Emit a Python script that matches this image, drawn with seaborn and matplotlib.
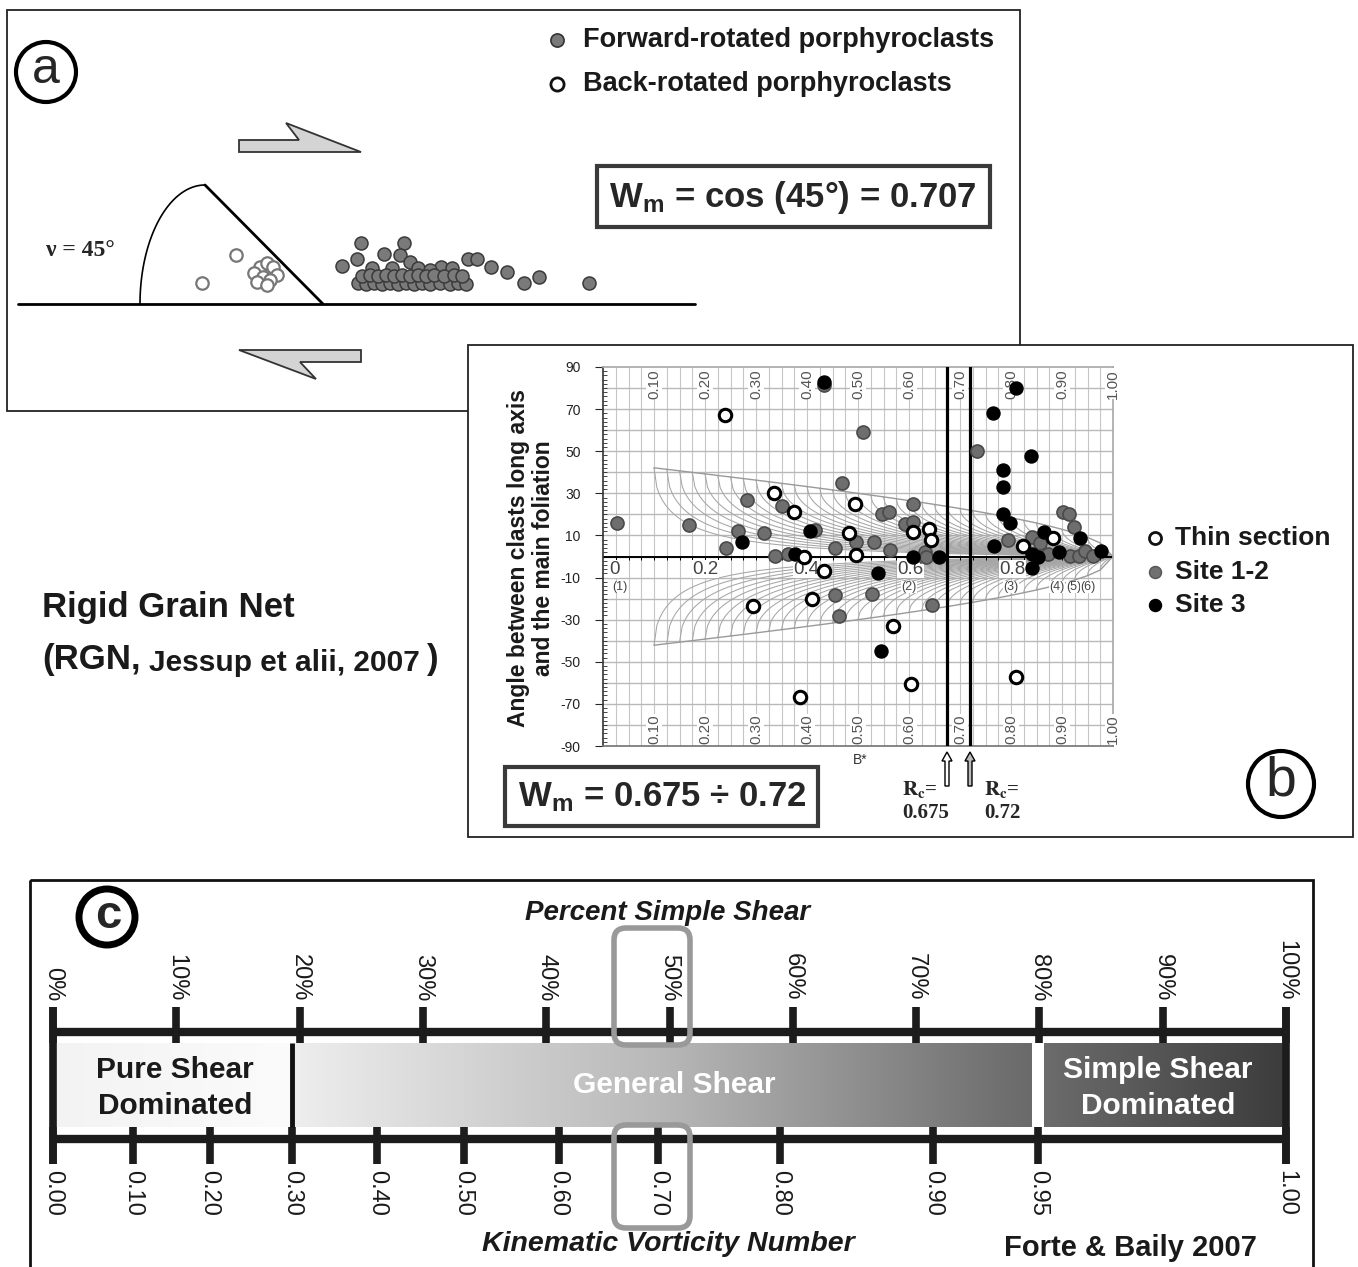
import numpy as np
import matplotlib
matplotlib.use("Agg")
import matplotlib.pyplot as plt
import matplotlib.patches as mpatches
from matplotlib.ticker import MultipleLocator
from matplotlib.colors import LinearSegmentedColormap
import seaborn as sns

sns.set_theme(style="white")
plt.rcParams["font.family"] = ["Liberation Sans", "DejaVu Sans"]
plt.rcParams["mathtext.fontset"] = "custom"
plt.rcParams["mathtext.rm"] = "Liberation Sans"
plt.rcParams["mathtext.bf"] = "Liberation Sans:bold"
plt.rcParams["mathtext.it"] = "Liberation Sans:italic"

W, H = 1358, 1267

# -- Panel (a): porphyroclasts along the shear plane (figure pixels) -------
fwd_x = [361, 404, 384, 400, 410, 357, 342, 468, 477, 441, 491, 507, 524, 539, 589,
         372, 392, 418, 430, 452,
         358, 366, 374, 382, 390, 398, 406, 414, 422, 430, 440, 450, 458, 466,
         362, 370, 378, 386, 394, 402, 410, 418, 426, 434, 444, 454, 462]
fwd_y = [243, 243, 254, 255, 262, 259, 266, 259, 259, 267, 267, 272, 283, 277, 283,
         268, 268, 268, 270, 268,
         283, 284, 283, 284, 283, 284, 283, 284, 283, 284, 283, 284, 283, 284,
         276, 275, 276, 275, 276, 275, 276, 275, 276, 275, 276, 275, 276]
back_x = [202, 236, 260, 267, 273, 277, 254, 263, 270, 257, 267]
back_y = [283, 255, 267, 263, 267, 275, 273, 277, 280, 282, 285]

# -- Panel (b): Rigid Grain Net data ---------------------------------------
thin_bstar = [0.240, 0.336, 0.375, 0.494, 0.483, 0.394, 0.496, 0.434, 0.410, 0.294,
              0.387, 0.569, 0.604, 0.810, 0.607, 0.639, 0.643, 0.883, 0.824]
thin_angle = [67.0, 30.3, 21.0, 24.8, 11.2, -0.4, 0.7, -6.8, -20.0, -23.4,
              -66.6, -33.0, -60.5, -57.1, 11.6, 12.9, 7.8, 8.9, 5.0]
site12_bstar = [0.027, 0.169, 0.241, 0.264, 0.282, 0.316, 0.337, 0.350, 0.363, 0.415,
                0.434, 0.454, 0.454, 0.463, 0.468, 0.497, 0.509, 0.527, 0.531, 0.547,
                0.560, 0.563, 0.592, 0.607, 0.607, 0.632, 0.633, 0.645, 0.734, 0.795,
                0.842, 0.857, 0.872, 0.901, 0.914, 0.916, 0.924, 0.933, 0.946, 0.960]
site12_angle = [16.1, 15.0, 4.2, 12.3, 26.8, 11.0, 0.2, 24.0, 1.2, 12.6,
                81.4, 4.2, -18.2, -28.3, 35.0, 7.0, 59.3, -17.9, 6.8, 20.2,
                20.9, 3.0, 15.5, 16.2, 25.0, 2.3, -0.1, -23.0, 50.1, 8.0,
                9.1, 6.3, 1.2, 21.0, 20.2, 0.2, 14.2, 0.2, 2.8, 0.2]
site3_bstar = [0.273, 0.376, 0.406, 0.434, 0.539, 0.546, 0.607, 0.658, 0.765, 0.767,
               0.784, 0.784, 0.784, 0.799, 0.810, 0.839, 0.841, 0.852, 0.841, 0.865,
               0.894, 0.936, 0.976]
site3_angle = [6.9, 1.2, 12.3, 83.0, -8.0, -44.9, -0.1, -0.4, 68.0, 5.0,
               41.1, 33.1, 20.2, 16.1, 80.2, 47.9, 1.2, -0.4, -5.6, 11.5,
               2.3, 8.9, 2.7]
rc_limits = [0.675, 0.72]
rgn_rc = [0.100, 0.125, 0.150, 0.175, 0.200, 0.225, 0.250, 0.275, 0.300, 0.325,
          0.350, 0.375, 0.400, 0.425, 0.450, 0.475, 0.500, 0.525, 0.550, 0.575,
          0.600, 0.625, 0.650, 0.675, 0.700, 0.725, 0.750, 0.775, 0.800, 0.825,
          0.850, 0.875, 0.900, 0.925, 0.950, 0.975]
bstar_ticks = [0.10, 0.20, 0.30, 0.40, 0.50, 0.60, 0.70, 0.80, 0.90, 1.00]
axis_labels = ["0", "0.2", "0.4", "0.6", "0.8"]
axis_pos = [0.012, 0.2, 0.398, 0.602, 0.802]
curve_ids = ["(1)", "(2)", "(3)", "(4)", "(5)", "(6)"]
curve_id_pos = [0.018, 0.600, 0.800, 0.890, 0.923, 0.951]
angle_ticks = [90, 70, 50, 30, 10, -10, -30, -50, -70, -90]

# -- Panel (c): vorticity scale --------------------------------------------
pct_ticks = [0, 10, 20, 30, 40, 50, 60, 70, 80, 90, 100]
pct_labels = ["0%", "10%", "20%", "30%", "40%", "50%", "60%", "70%", "80%", "90%", "100%"]
wk_labels = ["0.00", "0.10", "0.20", "0.30", "0.40", "0.50", "0.60", "0.70",
             "0.80", "0.90", "0.95", "1.00"]
wk_pct = [0, 6.5, 12.7, 19.4, 26.3, 33.3, 41.0, 49.1, 59.0, 71.4, 79.9, 100]


def frac(x0, y0, x1, y1):
    return [x0 / W, 1 - y1 / H, (x1 - x0) / W, (y1 - y0) / H]


fig = plt.figure(figsize=(W / 100, H / 100), dpi=100, facecolor="white")


def px_axes(z):
    ax = fig.add_axes([0, 0, 1, 1], zorder=z)
    ax.set_facecolor("none")
    return ax


ax_bg = px_axes(0)
ax_fg = px_axes(10)
ink = "#1a1a1a"

# -- Frames ----------------------------------------------------------------
ax_bg.add_patch(mpatches.Rectangle((7, 10), 1013, 401, fill=False, ec="#222", lw=1.3, zorder=1))
ax_bg.add_patch(mpatches.Rectangle((468, 345), 885, 492, fc="white", ec="#222", lw=1.3, zorder=3))
ax_bg.add_patch(mpatches.Rectangle((30, 880), 1283, 420, fill=False, ec="#111", lw=2, zorder=1))

# -- Panel (a) -------------------------------------------------------------
ax_bg.add_patch(mpatches.Circle((46, 72), 30, fill=False, ec="black", lw=3))
ax_bg.text(46, 70, "a", fontsize=36, ha="center", va="center")

ax_bg.scatter([557], [40], s=90, color="#7a7a7a", edgecolor="#333", lw=1.2)
ax_bg.scatter([557], [84], s=90, color="white", edgecolor="#111", lw=2)
ax_bg.text(583, 40, "Forward-rotated porphyroclasts", fontsize=19.5, fontweight="bold",
           va="center", color=ink)
ax_bg.text(583, 84, "Back-rotated porphyroclasts", fontsize=19.5, fontweight="bold",
           va="center", color=ink)

arrow_top = [(239, 140), (299, 140), (286, 123), (361, 152), (239, 152)]
arrow_bot = [(361, 350), (239, 350), (316, 379), (300, 362), (361, 362)]
for pts in (arrow_top, arrow_bot):
    ax_bg.add_patch(mpatches.Polygon(pts, closed=True, fc="#d4d4d4", ec="#333", lw=1.3))

ax_bg.add_patch(mpatches.Rectangle((597, 166), 393, 61, fill=False, ec="#3a3a3a", lw=3))
ax_bg.text(793, 197, r"$\mathbf{W_m}$ = cos (45°) = 0.707", fontsize=25,
           fontweight="bold", ha="center", va="center")

ax_bg.plot([18, 695], [304, 304], color="black", lw=2)
phi = np.linspace(0, np.pi / 2, 60)
ax_bg.plot(205 - 65 * np.cos(phi), 304 - 119 * np.sin(phi), color="black", lw=1.2)
ax_bg.plot([205, 323], [185, 304], color="black", lw=2)
ax_bg.text(46, 250, "ν = 45°", fontsize=17, family="Liberation Serif",
           fontweight="bold", va="center")

sns.scatterplot(x=fwd_x, y=fwd_y, ax=ax_bg, s=88, color="#7a7a7a",
                edgecolor="#3a3a3a", linewidth=1.1, zorder=4)
sns.scatterplot(x=back_x, y=back_y, ax=ax_bg, s=80, color="white",
                edgecolor="#777", linewidth=1.6, zorder=4)

ax_bg.text(42, 607, "Rigid Grain Net", fontsize=25, fontweight="bold",
           va="center", color=ink)
ax_bg.text(42, 660, "(RGN,", fontsize=25, fontweight="bold", va="center", color=ink)
ax_bg.text(149, 663, "Jessup et alii, 2007", fontsize=21.5, fontweight="bold",
           va="center", color=ink)
ax_bg.text(427, 660, ")", fontsize=25, fontweight="bold", va="center", color=ink)

# -- Panel (b) -------------------------------------------------------------
ax_b = fig.add_axes(frac(603, 367, 1113, 746), zorder=5)
ax_b.set_facecolor("none")

grid_x = [i / 40 for i in range(1, 40)]
for gx in grid_x:
    ax_b.axvline(gx, color="#c6c6c6", lw=0.8, zorder=0)
for gy in range(-80, 90, 10):
    ax_b.axhline(gy, color="#b9b9b9", lw=1.0, zorder=0)

curve_col = "#a6a6a6"
for rc in rgn_rc:
    b = np.linspace(rc, 1.0, 160)
    th = 0.5 * (np.degrees(np.arcsin(rc / b)) - np.degrees(np.arcsin(rc)))
    ax_b.plot(b, th, color=curve_col, lw=0.75, zorder=1)
    ax_b.plot(b, -th, color=curve_col, lw=0.75, zorder=1)
env_b = np.array(rgn_rc + [1.0])
env_t = 45 - np.degrees(np.arcsin(env_b)) / 2
ax_b.plot(env_b, env_t, color="#9a9a9a", lw=1.0, zorder=1)
ax_b.plot(env_b, -env_t, color="#9a9a9a", lw=1.0, zorder=1)

ax_b.axhline(0, color="black", lw=1.4, zorder=2)
ax_b.vlines(grid_x, -1.8, 0, color="black", lw=0.7, zorder=2)
for rc in rc_limits:
    ax_b.axvline(rc, color="black", lw=2.3, zorder=3)

for v in bstar_ticks:
    for yy in (82, -82):
        ax_b.text(v, yy, f"{v:.2f}", rotation=90, fontsize=11, color="#555",
                  ha="center", va="center", zorder=3,
                  bbox=dict(fc="white", ec="none", pad=0.6))
for lab, x in zip(axis_labels, axis_pos):
    ax_b.text(x, -6, lab, fontsize=13.5, color="#444", ha="center" if x > 0.1 else "left",
              va="center", zorder=3, bbox=dict(fc="white", ec="none", pad=0.3))
for lab, x in zip(curve_ids, curve_id_pos):
    ax_b.text(x, -14.5, lab, fontsize=9, color="#444", ha="center" if x > 0.1 else "left",
              va="center", zorder=3, bbox=dict(fc="white", ec="none", pad=0.2))

sns.scatterplot(x=site12_bstar, y=site12_angle, ax=ax_b, s=88, color="#6e6e6e",
                edgecolor="#4a4a4a", linewidth=1.2, zorder=6)
sns.scatterplot(x=site3_bstar, y=site3_angle, ax=ax_b, s=88, color="black",
                edgecolor="black", linewidth=1.0, zorder=7)
sns.scatterplot(x=thin_bstar, y=thin_angle, ax=ax_b, s=80, color="white",
                edgecolor="black", linewidth=2.2, zorder=8)

ax_b.set_xlim(0, 1)
ax_b.set_ylim(-90, 90)
ax_b.set_xticks([])
ax_b.set_yticks(angle_ticks)
ax_b.set_yticklabels([str(t) for t in angle_ticks], fontsize=10, color="#222")
ax_b.yaxis.set_minor_locator(MultipleLocator(2))
ax_b.tick_params(axis="y", which="major", left=True, length=6, width=0.8,
                 direction="out", pad=10)
ax_b.tick_params(axis="y", which="minor", left=True, length=3, width=0.6, direction="in")
ax_b.set_xlabel("")
ax_b.set_ylabel("")
ax_b.spines["left"].set_color("#333")
ax_b.spines["left"].set_linewidth(1.2)
for s in ("top", "right"):
    ax_b.spines[s].set_color("#aaa")
ax_b.spines["bottom"].set_color("#777")

ax_fg.text(531, 558, "Angle between clasts long axis\nand the main foliation",
           rotation=90, fontsize=16.5, fontweight="bold", ha="center", va="center",
           linespacing=1.15, color=ink)

legend_rows = [("Thin section", "white", "#111", 538),
               ("Site 1-2", "#707070", "#555", 572),
               ("Site 3", "black", "black", 605)]
for lab, fc, ec, yy in legend_rows:
    ax_fg.scatter([1155], [yy], s=75, color=fc, edgecolor=ec, lw=2 if fc == "white" else 1)
    ax_fg.text(1175, yy, lab, fontsize=19, fontweight="bold", va="center", color=ink)

ax_fg.add_patch(mpatches.Circle((1281, 784), 33, fill=False, ec="black", lw=3))
ax_fg.text(1281, 782, "b", fontsize=40, ha="center", va="center")

ax_fg.add_patch(mpatches.Rectangle((505, 767), 313, 59, fill=False, ec="#3a3a3a", lw=3))
ax_fg.text(662, 797, r"$\mathbf{W_m}$ = 0.675 ÷ 0.72", fontsize=25, fontweight="bold",
           ha="center", va="center")
ax_fg.text(860, 760, "B*", fontsize=10, ha="center", va="center", color="#333")
for xa, fc in ((947, "white"), (970, "#bbbbbb")):
    ax_fg.add_patch(mpatches.FancyArrow(xa, 786, 0, -34, width=4, head_width=10,
                                        head_length=9, length_includes_head=True,
                                        fc=fc, ec="black", lw=1))
for xr, val in ((902, "0.675"), (984, "0.72")):
    ax_fg.text(xr, 789, r"$\mathbf{R_c}$=", fontsize=15, math_fontfamily="stix",
               family="Liberation Serif", fontweight="bold", va="center")
    ax_fg.text(xr, 813, val, fontsize=15, family="Liberation Serif",
               fontweight="bold", va="center")

# -- Panel (c) -------------------------------------------------------------
ax_c = fig.add_axes(frac(53, 880, 1286, 1267), zorder=4)
ax_c.set_facecolor("none")
ax_c.axis("off")

band_top, band_bot = 1043, 1127
pure_cmap = LinearSegmentedColormap.from_list("pure", ["#f3f3f3", "#fbfbfb"])
gen_cmap = LinearSegmentedColormap.from_list("gen", ["#eeeeee", "#b8b8b8", "#6a6a6a"])
simp_cmap = LinearSegmentedColormap.from_list("simp", ["#6c6c6c", "#3c3c3c"])
grad = np.linspace(0, 1, 256)[None, :]
ax_c.imshow(grad, cmap=pure_cmap, extent=[0, wk_pct[3], band_bot, band_top], aspect="auto")
ax_c.imshow(grad, cmap=gen_cmap, extent=[wk_pct[3], 79.4, band_bot, band_top], aspect="auto")
ax_c.imshow(grad, cmap=simp_cmap, extent=[80.4, 100, band_bot, band_top], aspect="auto")

ax_c.hlines([1032, 1139], 0, 100, color="#1c1c1c", lw=6, clip_on=False)
ax_c.vlines(pct_ticks, 1007, 1043, color="#1c1c1c", lw=5.5, clip_on=False)
ax_c.vlines(wk_pct, 1127, 1164, color="#1c1c1c", lw=5.5, clip_on=False)
ax_c.vlines([0, 100], 1007, 1164, color="#1c1c1c", lw=5.5, clip_on=False)
ax_c.vlines([wk_pct[3]], band_top, band_bot, color="#111", lw=3.5)
for p, lab in zip(pct_ticks, pct_labels):
    ax_c.text(p, 1001, lab, rotation=-90, fontsize=17, ha="center", va="bottom",
              color=ink, clip_on=False)
for p, lab in zip(wk_pct, wk_labels):
    ax_c.text(p, 1170, lab, rotation=-90, fontsize=17, ha="center", va="top",
              color=ink, clip_on=False)

ax_c.text(9.9, 1088, "Pure Shear\nDominated", fontsize=21.5, fontweight="bold",
          ha="center", va="center", linespacing=1.4, color=ink)
ax_c.text(50.4, 1085, "General Shear", fontsize=21.5, fontweight="bold",
          ha="center", va="center", color="white")
ax_c.text(89.6, 1088, "Simple Shear\nDominated", fontsize=21.5, fontweight="bold",
          ha="center", va="center", linespacing=1.4, color="white")
ax_c.set_xlim(0, 100)
ax_c.set_ylim(1267, 880)

for y0, h in ((928, 117), (1125, 103)):
    ax_fg.add_patch(mpatches.FancyBboxPatch((614, y0), 76, h,
                                            boxstyle="round,pad=0,rounding_size=12",
                                            fill=False, ec="#999", lw=4))

ax_fg.add_patch(mpatches.Circle((107, 917), 28, fill=False, ec="black", lw=5))
ax_fg.text(108, 916, "c", fontsize=34, fontweight="bold", ha="center", va="center")
ax_fg.text(668, 913, "Percent Simple Shear", fontsize=20, fontweight="bold",
           style="italic", ha="center", va="center", color=ink)
ax_fg.text(668, 1244, "Kinematic Vorticity Number", fontsize=20.5, fontweight="bold",
           style="italic", ha="center", va="center", color=ink)
ax_fg.text(1130, 1248, "Forte & Baily 2007", fontsize=21, fontweight="bold",
           ha="center", va="center", color=ink)

for ax in (ax_bg, ax_fg):
    ax.set_xlim(0, W)
    ax.set_ylim(H, 0)
    ax.axis("off")

fig.savefig("out.png", dpi=100)
